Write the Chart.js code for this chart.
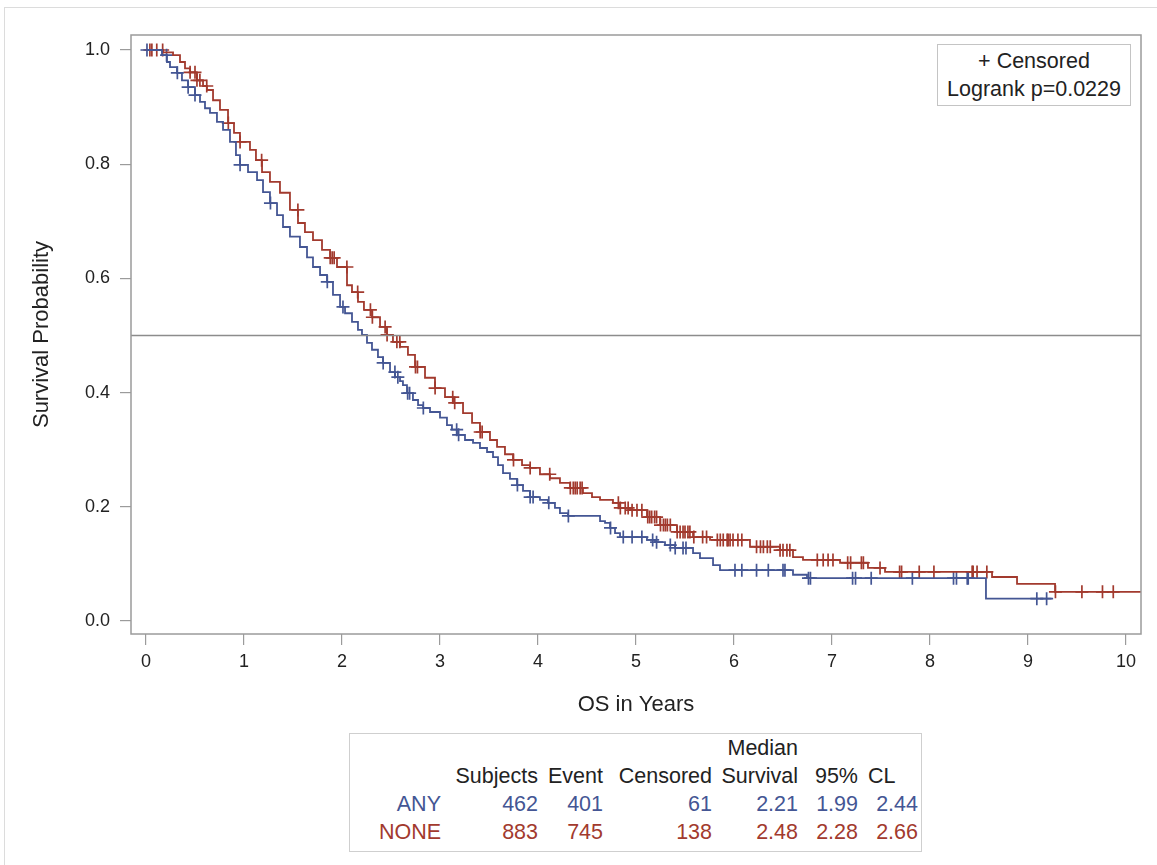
<!DOCTYPE html>
<html>
<head>
<meta charset="utf-8">
<script src="https://cdn.jsdelivr.net/npm/chart.js@4.4.1/dist/chart.umd.min.js"></script>
<style>
    body { margin: 0; background: #fff; font-family: "Liberation Sans", Arial, sans-serif; }
    .frame { position: absolute; left: 4px; top: 7px; width: 1200px; height: 900px; border-top: 1px solid #dcdcdc; border-left: 1px solid #dcdcdc; }
    .chart-box { position: absolute; left: 0; top: 0; width: 1157px; height: 720px; }
    .inset { position: absolute; left: 937px; top: 44px; width: 194px; height: 62px; border: 1px solid #c4c4c4; background: #fff;
             font-size: 21.5px; color: #222; text-align: center; line-height: 28px; padding-top: 2px; box-sizing: border-box; }
    .stats { position: absolute; left: 349px; top: 733px; width: 573px; height: 119px; border: 1px solid #cfcfcf; box-sizing: border-box; }
    .stats table { border-collapse: collapse; table-layout: fixed; font-size: 21.5px; color: #222; }
    .stats td { padding: 0; height: 28px; text-align: right; white-space: nowrap; }
    .stats td.left { text-align: left; padding-left: 10px; }
</style>
</head>
<body>
<div class="frame"></div>
<div class="chart-box"><canvas id="km"></canvas></div>
<div class="inset"><div>+ Censored</div><div>Logrank p=0.0229</div></div>
<div class="stats"><table id="stats-table"></table></div>
<script>
// Kaplan-Meier steps: time in years, survival after the drop
const anyTime = [0, 0.163, 0.214, 0.245, 0.316, 0.367, 0.429, 0.500, 0.551, 0.602, 0.653, 0.724, 0.786, 0.857, 0.918, 0.959,
    1.041, 1.133, 1.194, 1.265, 1.337, 1.398, 1.469, 1.571, 1.643, 1.704, 1.776, 1.847, 1.908, 1.980, 2.031, 2.102, 2.163,
    2.204, 2.255, 2.306, 2.367, 2.418, 2.490, 2.541, 2.592, 2.622, 2.663, 2.724, 2.776, 2.827, 2.898, 3.000, 3.071, 3.122,
    3.173, 3.255, 3.337, 3.408, 3.480, 3.541, 3.592, 3.643, 3.714, 3.786, 3.847, 3.918, 4.020, 4.102, 4.173, 4.224, 4.306,
    4.633, 4.684, 4.735, 4.786, 4.837, 5.112, 5.194, 5.296, 5.398, 5.582, 5.653, 5.786, 5.857, 6.602, 6.745, 8.571, 9.24]
const anySurv = [1.000, 0.991, 0.979, 0.970, 0.960, 0.947, 0.935, 0.921, 0.909, 0.898, 0.890, 0.874, 0.860, 0.839, 0.816, 0.799,
    0.786, 0.772, 0.751, 0.732, 0.711, 0.690, 0.673, 0.655, 0.637, 0.620, 0.606, 0.594, 0.571, 0.550, 0.539, 0.524, 0.510,
    0.501, 0.487, 0.475, 0.462, 0.452, 0.436, 0.427, 0.420, 0.413, 0.399, 0.387, 0.378, 0.373, 0.366, 0.356, 0.343, 0.335,
    0.326, 0.317, 0.312, 0.303, 0.296, 0.287, 0.273, 0.259, 0.249, 0.238, 0.228, 0.217, 0.212, 0.207, 0.198, 0.189, 0.184,
    0.175, 0.172, 0.163, 0.154, 0.147, 0.142, 0.138, 0.133, 0.128, 0.119, 0.110, 0.098, 0.089, 0.081, 0.075, 0.039, 0.039]
const anyCensor = [0.01, 0.21, 0.32, 0.43, 0.50, 0.96, 1.27, 1.85, 2.01, 2.42, 2.54, 2.57, 2.67, 2.69, 2.83, 3.17, 3.19, 3.79,
    3.92, 3.95, 4.11, 4.31, 4.74, 4.87, 4.96, 5.06, 5.17, 5.21, 5.35, 5.40, 5.48, 5.51, 6.01, 6.08, 6.23, 6.35, 6.50, 6.52,
    6.76, 6.78, 7.21, 7.24, 7.40, 7.82, 8.24, 8.27, 8.38, 8.39, 9.09, 9.19]

const noneTime = [0, 0.173, 0.276, 0.347, 0.398, 0.449, 0.520, 0.582, 0.622, 0.684, 0.755, 0.837, 0.898, 0.959, 1.061, 1.122,
    1.184, 1.265, 1.367, 1.469, 1.551, 1.622, 1.704, 1.796, 1.878, 1.949, 2.051, 2.102, 2.163, 2.224, 2.306, 2.388, 2.459,
    2.520, 2.592, 2.673, 2.745, 2.847, 2.949, 3.051, 3.133, 3.235, 3.327, 3.408, 3.510, 3.582, 3.663, 3.745, 3.837, 3.918,
    4.020, 4.122, 4.224, 4.327, 4.459, 4.551, 4.633, 4.765, 4.837, 4.939, 5.112, 5.245, 5.418, 5.582, 5.755, 6.163, 6.469,
    6.602, 6.704, 7.082, 7.367, 7.541, 8.633, 8.888, 9.276, 10.3]
const noneSurv = [1.000, 0.996, 0.991, 0.979, 0.968, 0.961, 0.947, 0.937, 0.930, 0.912, 0.895, 0.872, 0.855, 0.839, 0.825, 0.807,
    0.786, 0.769, 0.750, 0.720, 0.697, 0.681, 0.667, 0.650, 0.636, 0.620, 0.588, 0.576, 0.559, 0.545, 0.532, 0.515, 0.501,
    0.489, 0.480, 0.466, 0.445, 0.426, 0.408, 0.392, 0.382, 0.364, 0.347, 0.331, 0.317, 0.305, 0.292, 0.282, 0.273, 0.268,
    0.257, 0.250, 0.242, 0.233, 0.224, 0.217, 0.212, 0.207, 0.198, 0.194, 0.182, 0.168, 0.156, 0.147, 0.142, 0.130, 0.124,
    0.112, 0.107, 0.102, 0.093, 0.086, 0.077, 0.065, 0.051, 0.051]
const noneCensor = [0.04, 0.06, 0.11, 0.17, 0.45, 0.50, 0.52, 0.55, 0.62, 0.84, 0.96, 1.18, 1.55, 1.88, 1.90, 1.92, 2.05,
    2.16, 2.29, 2.31, 2.44, 2.46, 2.56, 2.59, 2.75, 2.77, 2.95, 3.13, 3.15, 3.41, 3.43, 3.75, 3.92, 4.12, 4.33, 4.36, 4.38,
    4.40, 4.43, 4.45, 4.82, 4.84, 4.89, 4.92, 4.96, 5.01, 5.06, 5.12, 5.14, 5.16, 5.19, 5.21, 5.25, 5.28, 5.30, 5.32, 5.35,
    5.42, 5.45, 5.48, 5.50, 5.53, 5.55, 5.59, 5.68, 5.72, 5.83, 5.86, 5.89, 5.93, 5.94, 5.96, 5.99, 6.04, 6.08, 6.23, 6.27,
    6.30, 6.34, 6.37, 6.47, 6.50, 6.54, 6.57, 6.85, 6.91, 6.96, 7.01, 7.16, 7.19, 7.30, 7.32, 7.49, 7.69, 7.71, 7.89, 8.04,
    8.43, 8.44, 8.48, 8.58, 9.28, 9.55, 9.76, 9.87]

const xTicks = [0, 1, 2, 3, 4, 5, 6, 7, 8, 9, 10]
const yTicks = [0, 0.2, 0.4, 0.6, 0.8, 1.0]

const statsHeader1 = ['', '', '', '', 'Median', '', '']
const statsHeader2 = ['', 'Subjects', 'Event', 'Censored', 'Survival', '95%', 'CL']
const statsAny = ['ANY', '462', '401', '61', '2.21', '1.99', '2.44']
const statsNone = ['NONE', '883', '745', '138', '2.48', '2.28', '2.66']

const COLORS = {
    any: '#445694',
    none: '#A23A2E',
    axis: '#9b9b9b',
    ref: '#8c8c8c',
    text: '#222222'
}

function steps(times, surv){
    return times.map((t, i) => ({ x: t, y: surv[i] }))
}
// survival value at a censor time, taken from the step table
function censor_points(times, surv, censors){
    return censors.map(c => {
        let i = 0
        while(i + 1 < times.length && times[i + 1] <= c) i++
        return { x: c, y: surv[i] }
    })
}

const framePlugin = {
    id: 'frame',
    afterDraw(chart){
        const { ctx, chartArea: a } = chart
        ctx.save()
        ctx.strokeStyle = COLORS.axis
        ctx.lineWidth = 1.5
        ctx.strokeRect(a.left, a.top, a.right - a.left, a.bottom - a.top)
        ctx.restore()
    }
}

const ctx = document.getElementById('km').getContext('2d')
new Chart(ctx, {
    type: 'line',
    data: {
        datasets: [
            { label: 'ref', data: [{ x: -1, y: 0.5 }, { x: 11, y: 0.5 }], borderColor: COLORS.ref, borderWidth: 1.5, pointRadius: 0 },
            { label: 'ANY', data: steps(anyTime, anySurv), stepped: true, borderColor: COLORS.any, borderWidth: 1.8, pointRadius: 0 },
            { label: 'NONE', data: steps(noneTime, noneSurv), stepped: true, borderColor: COLORS.none, borderWidth: 1.8, pointRadius: 0 },
            { label: 'ANY censored', data: censor_points(anyTime, anySurv, anyCensor), showLine: false,
              pointStyle: 'cross', pointRadius: 6.5, pointBorderWidth: 1.7, pointBorderColor: COLORS.any, pointBackgroundColor: COLORS.any },
            { label: 'NONE censored', data: censor_points(noneTime, noneSurv, noneCensor), showLine: false,
              pointStyle: 'cross', pointRadius: 6.5, pointBorderWidth: 1.7, pointBorderColor: COLORS.none, pointBackgroundColor: COLORS.none }
        ]
    },
    options: {
        responsive: true,
        maintainAspectRatio: false,
        animation: false,
        layout: { padding: { top: 35, right: 16, left: 0, bottom: 0 } },
        plugins: { legend: { display: false }, tooltip: { enabled: false } },
        scales: {
            x: {
                type: 'linear',
                min: -0.153,
                max: 10.153,
                afterBuildTicks: s => { s.ticks = xTicks.map(v => ({ value: v })) },
                afterFit: s => { s.height = 86 },
                border: { display: false },
                grid: { drawOnChartArea: false, drawTicks: true, tickLength: 11, color: COLORS.axis, lineWidth: 1.2 },
                ticks: { color: COLORS.text, font: { family: 'Liberation Sans', size: 18 }, padding: 6, maxRotation: 0 },
                title: { display: true, text: 'OS in Years', color: COLORS.text, font: { family: 'Liberation Sans', size: 22 }, padding: { bottom: 2 } }
            },
            y: {
                type: 'linear',
                min: -0.0228,
                max: 1.0263,
                afterBuildTicks: s => { s.ticks = yTicks.map(v => ({ value: v })) },
                afterFit: s => { s.width = 131 },
                border: { display: false },
                grid: { drawOnChartArea: false, drawTicks: true, tickLength: 11, color: COLORS.axis, lineWidth: 1.2 },
                ticks: { color: COLORS.text, font: { family: 'Liberation Sans', size: 18 }, padding: 10, callback: v => v.toFixed(1) },
                title: { display: true, text: 'Survival Probability', color: COLORS.text, font: { family: 'Liberation Sans', size: 22 }, padding: { top: 29 } }
            }
        }
    },
    plugins: [framePlugin]
})

// statistics table under the plot
const colWidths = [91, 97, 65, 109, 86, 60, 60]
const table = document.getElementById('stats-table')
const colgroup = document.createElement('colgroup')
colWidths.forEach(w => { const c = document.createElement('col'); c.style.width = w + 'px'; colgroup.appendChild(c) })
table.appendChild(colgroup)
;[[statsHeader1, COLORS.text], [statsHeader2, COLORS.text], [statsAny, COLORS.any], [statsNone, COLORS.none]].forEach(([row, color]) => {
    const tr = document.createElement('tr')
    row.forEach((cell, i) => {
        const td = document.createElement('td')
        td.textContent = cell
        td.style.color = color
        if(row === statsHeader2 && i === 6) td.className = 'left'
        tr.appendChild(td)
    })
    table.appendChild(tr)
})
</script>
</body>
</html>
